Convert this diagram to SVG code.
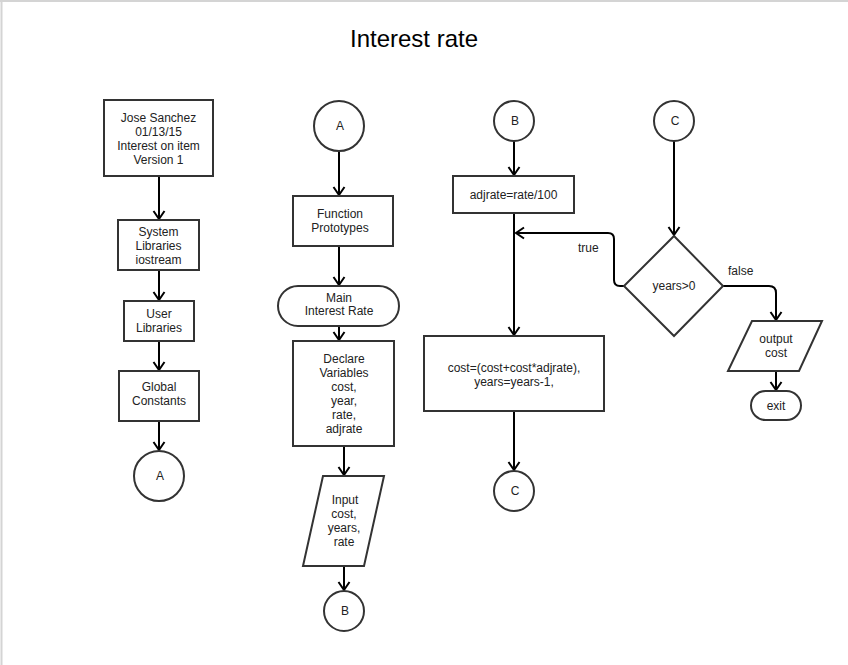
<svg xmlns="http://www.w3.org/2000/svg" width="848" height="665" viewBox="0 0 848 665">
<defs>
<style>
.n{fill:#fff;stroke:#333;stroke-width:2}
.t{font-family:"Liberation Sans",Arial,sans-serif;font-size:12px;fill:#222;text-anchor:middle}
.c{fill:none;stroke:#000;stroke-width:2;marker-end:url(#arr)}
.l{font-family:"Liberation Sans",Arial,sans-serif;font-size:12px;fill:#222}
</style>
<marker id="arr" markerUnits="userSpaceOnUse" viewBox="-10 -7 12 14" refX="0" refY="0" markerWidth="12" markerHeight="14" orient="auto">
<path d="M-8,-5.5 L0,0 L-8,5.5" fill="none" stroke="#000" stroke-width="2"/>
</marker>
</defs>
<rect width="848" height="665" fill="#fff"/>
<path d="M0,1 H848 M1.5,0 V665" stroke="#d4d4d4" stroke-width="2" fill="none"/>
<text x="414" y="47" font-family="Liberation Sans,Arial,sans-serif" font-size="24" fill="#000" text-anchor="middle">Interest rate</text>

<g id="connectors">
<path class="c" d="M159,176 V219"/>
<path class="c" d="M159,270 V300"/>
<path class="c" d="M159,341 V370"/>
<path class="c" d="M159,421 V450"/>
<path class="c" d="M339,151 V195"/>
<path class="c" d="M339,246 V285"/>
<path class="c" d="M339,326 V340"/>
<path class="c" d="M344,446 V475"/>
<path class="c" d="M344,566 V590"/>
<path class="c" d="M514,141 V175"/>
<path class="c" d="M514,213 V335"/>
<path class="c" d="M624,286 H620 Q614,286 614,280 V239 Q614,233 608,233 H516"/>
<path class="c" d="M514,411 V470"/>
<path class="c" d="M674,141 V235"/>
<path class="c" d="M723,286 H769 Q776,286 776,293 V320"/>
<path class="c" d="M776,371 V390"/>
<text class="l" x="578" y="252">true</text>
<text class="l" x="728" y="275">false</text>
</g>

<g id="header">
<rect class="n" x="104" y="100" width="109" height="76"/>
<text class="t" x="158.5" y="122">Jose Sanchez</text>
<text class="t" x="158.5" y="136">01/13/15</text>
<text class="t" x="158.5" y="150">Interest on item</text>
<text class="t" x="158.5" y="164">Version 1</text>
</g>
<g id="syslib">
<rect class="n" x="118" y="220" width="81" height="50"/>
<text class="t" x="158.5" y="236">System</text>
<text class="t" x="158.5" y="250">Libraries</text>
<text class="t" x="158.5" y="264">iostream</text>
</g>
<g id="userlib">
<rect class="n" x="124" y="301" width="70" height="40"/>
<text class="t" x="159" y="318">User</text>
<text class="t" x="159" y="332">Libraries</text>
</g>
<g id="globals">
<rect class="n" x="119" y="371" width="80" height="50"/>
<text class="t" x="159" y="391">Global</text>
<text class="t" x="159" y="405">Constants</text>
</g>
<g id="connA1">
<circle class="n" cx="159" cy="476" r="25"/>
<text class="t" x="160" y="480">A</text>
</g>

<g id="connA2">
<circle class="n" cx="339" cy="126" r="25"/>
<text class="t" x="340" y="130">A</text>
</g>
<g id="protos">
<rect class="n" x="293" y="196" width="100" height="50"/>
<text class="t" x="340" y="218">Function</text>
<text class="t" x="340" y="232">Prototypes</text>
</g>
<g id="main">
<rect class="n" x="278" y="286" width="121" height="40" rx="20" ry="20"/>
<text class="t" x="339" y="302">Main</text>
<text class="t" x="339" y="315">Interest Rate</text>
</g>
<g id="declare">
<rect class="n" x="293" y="341" width="101" height="105"/>
<text class="t" x="344" y="363">Declare</text>
<text class="t" x="344" y="377">Variables</text>
<text class="t" x="344" y="391">cost,</text>
<text class="t" x="344" y="405">year,</text>
<text class="t" x="344" y="419">rate,</text>
<text class="t" x="344" y="433">adjrate</text>
</g>
<g id="input">
<polygon class="n" points="323,476 384,476 364,566 303,566"/>
<text class="t" x="345" y="504">Input</text>
<text class="t" x="344" y="518">cost,</text>
<text class="t" x="344" y="532">years,</text>
<text class="t" x="344" y="546">rate</text>
</g>
<g id="connB1">
<circle class="n" cx="344" cy="611" r="20"/>
<text class="t" x="345" y="615">B</text>
</g>

<g id="connB2">
<circle class="n" cx="514" cy="121" r="20"/>
<text class="t" x="515" y="125">B</text>
</g>
<g id="adjrate">
<rect class="n" x="453" y="176" width="121" height="37"/>
<text class="t" x="513.5" y="199">adjrate=rate/100</text>
</g>
<g id="compute">
<rect class="n" x="424" y="336" width="180" height="75"/>
<text class="t" x="514" y="372">cost=(cost+cost*adjrate),</text>
<text class="t" x="514" y="386">years=years-1,</text>
</g>
<g id="connC1">
<circle class="n" cx="514" cy="491" r="20"/>
<text class="t" x="515" y="495">C</text>
</g>

<g id="connC2">
<circle class="n" cx="674" cy="121" r="20"/>
<text class="t" x="675" y="125">C</text>
</g>
<g id="decision">
<polygon class="n" points="674,236 723,286 674,336 624,286"/>
<text class="t" x="674" y="290">years&gt;0</text>
</g>
<g id="output">
<polygon class="n" points="752,321 822,321 799,371 728,371"/>
<text class="t" x="776" y="343">output</text>
<text class="t" x="776" y="357">cost</text>
</g>
<g id="exit">
<rect class="n" x="751" y="391" width="50" height="29" rx="14.5" ry="14.5"/>
<text class="t" x="776" y="410">exit</text>
</g>
</svg>
